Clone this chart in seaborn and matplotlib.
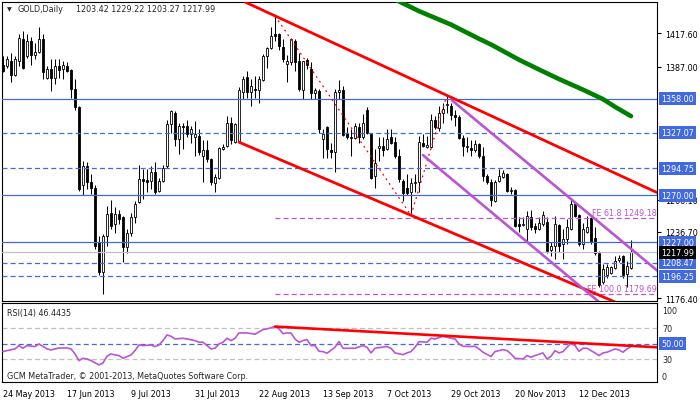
import matplotlib
matplotlib.use("Agg")
import matplotlib.pyplot as plt
import matplotlib.transforms as mtransforms
import numpy as np
import pandas as pd
import seaborn as sns

# daily OHLC, one row per bar (24 May 2013 .. end of Dec 2013)
opens = [1389, 1388, 1392, 1380, 1392, 1412, 1397, 1411, 1398, 1401, 1412, 1377, 1385, 1377, 1388, 1385,
         1388, 1384, 1367, 1350, 1279, 1297, 1282, 1277, 1227, 1200, 1233, 1254, 1244, 1253, 1250, 1223,
         1236, 1250, 1264, 1285, 1284, 1283, 1291, 1274, 1283, 1297, 1335, 1345, 1321, 1333, 1333, 1326,
         1323, 1324, 1306, 1311, 1303, 1281, 1286, 1312, 1315, 1336, 1319, 1319, 1364, 1378, 1364, 1367,
         1366, 1375, 1397, 1404, 1417, 1417, 1405, 1390, 1391, 1411, 1392, 1366, 1393, 1385, 1363, 1365,
         1321, 1332, 1311, 1309, 1364, 1366, 1327, 1323, 1322, 1332, 1323, 1348, 1326, 1288, 1313, 1315,
         1312, 1323, 1319, 1306, 1283, 1277, 1273, 1281, 1282, 1318, 1314, 1314, 1339, 1331, 1345, 1352,
         1351, 1343, 1341, 1322, 1314, 1313, 1311, 1317, 1306, 1288, 1282, 1265, 1283, 1287, 1289, 1274,
         1275, 1244, 1243, 1239, 1250, 1242, 1239, 1244, 1246, 1220, 1224, 1243, 1226, 1230, 1239, 1262,
         1252, 1226, 1237, 1249, 1231, 1217, 1191, 1197, 1199, 1204, 1211, 1215, 1198, 1203.42]
highs = [1397, 1397, 1400, 1397, 1417, 1420, 1417, 1414, 1409, 1423, 1417, 1388, 1394, 1394, 1394, 1392,
         1391, 1385, 1376, 1351, 1301, 1300, 1289, 1279, 1233, 1235, 1260, 1266, 1259, 1257, 1251, 1239,
         1254, 1265, 1298, 1294, 1294, 1297, 1300, 1286, 1298, 1339, 1348, 1347, 1336, 1336, 1339, 1333,
         1338, 1330, 1320, 1320, 1304, 1289, 1314, 1317, 1342, 1341, 1336, 1369, 1379, 1383, 1376, 1379,
         1379, 1399, 1405, 1423, 1433.5, 1418, 1412, 1398, 1413, 1412, 1400, 1392, 1395, 1391, 1368, 1367,
         1330, 1333, 1318, 1367, 1375, 1370, 1332, 1330, 1336, 1336, 1344, 1350, 1327, 1312, 1323, 1323,
         1330, 1330, 1323, 1312, 1285, 1289, 1286, 1289, 1324, 1326, 1324, 1344, 1342, 1351, 1354, 1361.6,
         1354, 1348, 1343, 1325, 1323, 1320, 1320, 1318, 1314, 1289, 1285, 1284, 1294, 1293, 1290, 1278,
         1276, 1250, 1250, 1256, 1257, 1245, 1250, 1256, 1250, 1227, 1251, 1244, 1239, 1248, 1267, 1263,
         1253, 1245, 1251, 1250, 1241, 1219, 1207, 1207, 1206, 1215, 1216, 1216, 1210, 1229.22]
lows = [1382, 1386, 1373, 1379, 1388, 1385, 1395, 1389, 1394, 1400, 1376, 1376, 1365, 1371, 1377, 1376,
        1382, 1359, 1348, 1274, 1270, 1276, 1271, 1221, 1197, 1180, 1224, 1239, 1236, 1244, 1209, 1217,
        1233, 1245, 1263, 1267, 1273, 1276, 1271, 1273, 1282, 1295, 1327, 1315, 1308, 1312, 1323, 1318,
        1306, 1307, 1282, 1300, 1279, 1273, 1285, 1311, 1314, 1317, 1318, 1318, 1358, 1359, 1351, 1359,
        1354, 1374, 1386, 1403, 1411, 1402, 1391, 1373, 1389, 1383, 1365, 1358, 1385, 1358, 1358, 1327,
        1304, 1304, 1304, 1291, 1358, 1324, 1321, 1306, 1321, 1318, 1321, 1326, 1285, 1277, 1301, 1306,
        1311, 1317, 1304, 1282, 1265, 1270, 1251.7, 1273, 1273, 1314, 1313, 1313, 1330, 1329, 1336, 1345,
        1339, 1333, 1321, 1306, 1309, 1306, 1309, 1304, 1283, 1280, 1260, 1264, 1282, 1286, 1273, 1271,
        1241, 1237, 1242, 1227, 1238, 1236, 1238, 1242, 1217, 1215, 1212, 1218, 1212, 1226, 1238, 1250,
        1224, 1221, 1236, 1226, 1216, 1186, 1189, 1195, 1198, 1203, 1209, 1195, 1186, 1203.27]
closes = [1383, 1394, 1380, 1394, 1413, 1386, 1411, 1398, 1401, 1412, 1382, 1385, 1377, 1388, 1384, 1389,
          1383, 1367, 1350, 1276, 1297, 1282, 1277, 1224, 1200, 1233, 1253, 1242, 1253, 1248, 1223, 1236,
          1250, 1262, 1285, 1283, 1282, 1291, 1273, 1283, 1295, 1335, 1347, 1321, 1333, 1332, 1326, 1330,
          1326, 1309, 1311, 1303, 1282, 1287, 1313, 1314, 1336, 1320, 1335, 1366, 1376, 1364, 1370, 1366,
          1376, 1397, 1404, 1415, 1415, 1406, 1394, 1392, 1412, 1391, 1367, 1392, 1389, 1363, 1366, 1330,
          1326, 1312, 1309, 1364, 1366, 1325, 1323, 1322, 1333, 1323, 1336, 1327, 1286, 1299, 1315, 1311,
          1321, 1318, 1306, 1285, 1272, 1272, 1281, 1282, 1319, 1315, 1316, 1339, 1332, 1345, 1349, 1353,
          1343, 1341, 1322, 1315, 1315, 1311, 1317, 1306, 1288, 1282, 1266, 1282, 1288, 1290, 1274, 1275,
          1242, 1242, 1244, 1251, 1241, 1239, 1245, 1252, 1219, 1224, 1244, 1224, 1230, 1241, 1262, 1251,
          1226, 1239, 1241, 1227, 1217, 1188, 1203, 1205, 1205, 1210, 1213, 1197, 1206, 1217.99]

# moving average (green), read at a few bars
ma_bar = [97, 99, 104, 112, 119, 122, 129, 134, 139, 145, 150, 153, 157]
ma_val = [1450.0, 1446.7, 1437.8, 1425.5, 1412.6, 1407.4, 1393.5, 1384.6, 1375.9, 1366.2, 1357.6, 1350.6, 1342.1]

# RSI(14)
rsi_bar = [0, 1, 3, 4, 5, 6, 8, 9, 11, 12, 13, 14, 16, 17, 18, 19, 20, 21, 22, 24, 25, 26, 27, 28, 29, 30,
           32, 33, 34, 35, 37, 38, 39, 40, 41, 42, 43, 45, 46, 48, 49, 50, 51, 52, 53, 54, 55, 56, 57, 58,
           59, 61, 63, 65, 66, 68, 69, 70, 71, 72, 73, 74, 75, 76, 77, 78, 79, 80, 81, 83, 84, 85, 86, 87,
           88, 90, 91, 92, 93, 94, 96, 97, 98, 100, 101, 102, 103, 104, 106, 107, 108, 110, 112, 113, 114,
           115, 117, 118, 119, 120, 122, 123, 125, 126, 127, 128, 130, 131, 132, 133, 135, 136, 137, 138,
           139, 140, 141, 142, 143, 144, 145, 146, 147, 148, 149, 150, 151, 152, 153, 154, 155, 156, 157]
rsi_val = [39.9, 41.2, 43.4, 47.7, 44.2, 47.7, 46.4, 49.8, 43.4, 42.1, 43.4, 44.6, 44.6, 43.4, 36.9, 28.3,
           31.3, 30.4, 28.3, 22.7, 25.3, 33.9, 36.9, 35.6, 34.8, 31.3, 35.6, 41.2, 48.5, 47.7, 48.5, 46.4,
           48.5, 54.1, 61.4, 59.7, 56.2, 57.1, 56.2, 54.1, 52.0, 52.0, 47.7, 43.4, 44.2, 49.8, 52.0, 57.1,
           54.1, 57.1, 64.0, 64.0, 62.3, 68.3, 69.2, 72.2, 69.2, 63.1, 64.0, 64.0, 56.2, 52.0, 54.1, 55.4,
           47.7, 47.7, 40.3, 39.9, 37.8, 45.5, 53.0, 44.2, 44.2, 44.2, 44.2, 47.7, 45.5, 38.2, 44.2, 45.1,
           46.4, 44.2, 38.2, 36.0, 38.2, 39.9, 45.5, 52.8, 52.0, 57.1, 56.2, 59.7, 57.1, 56.2, 49.8, 46.8,
           46.4, 46.8, 43.4, 39.1, 33.5, 39.9, 42.5, 41.2, 36.9, 31.3, 30.4, 34.8, 32.6, 34.8, 38.2, 30.4,
           33.9, 41.2, 38.2, 39.9, 45.5, 50.7, 47.7, 40.3, 44.2, 44.2, 41.2, 38.2, 34.8, 38.2, 39.1, 41.2,
           43.4, 42.1, 39.1, 43.4, 46.44]

# drawn objects
solid_levels = [1358.00, 1270.00, 1227.00]
dashed_levels = [1327.07, 1294.75, 1208.47, 1196.25]
bid = 1217.99
fe_levels = [1249.18, 1179.69]
fe_labels = ["FE 61.8 1249.18", "FE 100.0 1179.69"]
upper_red = ([60.5, 163.5], [1446.1, 1272.5])
lower_red = ([59, 156], [1318.4, 1168.2])
upper_purple = ([112.25, 163.5], [1356.5, 1201.6])
lower_purple = ([105, 150], [1306.6, 1169.8])
fe_zigzag = ([68, 102, 111], [1433.5, 1251.7, 1361.6])
rsi_trend = ([68, 163.5], [72.2, 45.5])

price_ticks = [1417.60, 1387.00, 1266.10, 1236.70, 1176.40]
date_bars = [0, 16, 32, 48, 64, 80, 96, 112, 128, 144]
date_labels = ["24 May 2013", "17 Jun 2013", "9 Jul 2013", "31 Jul 2013", "22 Aug 2013",
               "13 Sep 2013", "7 Oct 2013", "29 Oct 2013", "20 Nov 2013", "12 Dec 2013"]

sns.set_style("white")
plt.rcParams['font.family'] = ['DejaVu Sans']
plt.rcParams['font.size'] = 5.8

FS = 5.8
BLUE = '#4169E1'
PURPLE = '#BA55D3'
SILVER = '#C0C0C0'
DASH = (0, (4, 2.5))

fig = plt.figure(figsize=(7, 4.02), dpi=100, facecolor='white')
ax = fig.add_axes([2/700, 1-302/402, 655/700, 299/402])
ax_rsi = fig.add_axes([2/700, 1-383/402, 655/700, 79/402])

df = pd.DataFrame({"open": opens, "high": highs, "low": lows, "close": closes})
df["bar"] = np.arange(len(df))
up = df.close >= df.open

# candles
ax.vlines(df.bar, df.low, df.high, color='black', lw=0.75, zorder=2)
ax.bar(df.bar, (df.close - df.open).abs(), bottom=np.minimum(df.open, df.close), width=0.7,
       color=np.where(up, 'white', 'black'), edgecolor='black', linewidth=0.6, zorder=3)

# horizontal levels
for lv in solid_levels:
    ax.axhline(lv, color=BLUE, lw=0.9, zorder=4)
for lv in dashed_levels:
    ax.axhline(lv, color=BLUE, lw=0.9, ls=DASH, zorder=4)
ax.axhline(bid, color=SILVER, lw=0.9, zorder=4)
for lv, lab in zip(fe_levels, fe_labels):
    ax.plot([68, 163.5], [lv, lv], color=PURPLE, lw=0.9, ls=DASH, zorder=4)
    ax.annotate(lab, (163.4, lv), xytext=(0, 1), textcoords='offset points',
                ha='right', va='bottom', color=PURPLE, fontsize=FS, zorder=6)

# trend lines and MA
ax.plot(*fe_zigzag, color='red', lw=0.9, ls=(0, (1.5, 3)), zorder=5)
ax.plot(*upper_red, color='red', lw=2.0, zorder=5)
ax.plot(*lower_red, color='red', lw=2.0, zorder=5)
ax.plot(*upper_purple, color=PURPLE, lw=1.9, zorder=5)
ax.plot(*lower_purple, color=PURPLE, lw=1.9, zorder=5)
sns.lineplot(x=ma_bar, y=ma_val, ax=ax, color='#008000', lw=3.3, zorder=5, legend=False)

ax.set_xlim(-0.25, 163.5)
ax.set_ylim(1173.7, 1446.1)
ax.set_xticks([])
ax.yaxis.tick_right()
ax.set_yticks(price_ticks)
ax.set_yticklabels([f"{p:.2f}" for p in price_ticks])
ax.tick_params(axis='y', direction='out', length=3, pad=3, labelsize=FS, colors='black')
ax.set_xlabel("")
ax.set_ylabel("")

# boxed price labels
box_tr = mtransforms.offset_copy(ax.get_yaxis_transform(), fig=fig, x=4, y=0, units='dots')
for lv in solid_levels + dashed_levels:
    ax.text(1.0, lv, f"{lv:.2f}", transform=box_tr, ha='left', va='center', color='white',
            fontsize=FS, zorder=10, clip_on=False,
            bbox=dict(boxstyle='square,pad=0.25', fc=BLUE, ec='none'))
ax.text(1.0, bid, f"{bid:.2f}", transform=box_tr, ha='left', va='center', color='white',
        fontsize=FS, zorder=10, clip_on=False,
        bbox=dict(boxstyle='square,pad=0.25', fc='black', ec='none'))

# RSI panel
ax_rsi.axhline(70, color=SILVER, lw=0.9, ls=DASH)
ax_rsi.axhline(30, color=SILVER, lw=0.9, ls=DASH)
ax_rsi.axhline(50, color=BLUE, lw=0.9, ls=DASH)
sns.lineplot(x=rsi_bar, y=rsi_val, ax=ax_rsi, color=PURPLE, lw=1.2, legend=False, zorder=3)
ax_rsi.plot(*rsi_trend, color='red', lw=1.9, zorder=4)
ax_rsi.set_xlim(-0.25, 163.5)
ax_rsi.set_ylim(0.7, 102.6)
ax_rsi.set_yticks([])
ax_rsi.set_ylabel("")
ax_rsi.set_xticks(date_bars)
ax_rsi.set_xticklabels(date_labels, ha='left')
ax_rsi.tick_params(axis='x', direction='out', length=4, pad=1, labelsize=FS, colors='black')

rsi_tr = mtransforms.offset_copy(ax_rsi.get_yaxis_transform(), fig=fig, x=5, y=0, units='dots')
for val, lab in [(92.5, "100"), (70, "70"), (30, "30"), (8, "0")]:
    ax_rsi.text(1.0, val, lab, transform=rsi_tr, ha='left', va='center', fontsize=FS, clip_on=False)
rsi_box = mtransforms.offset_copy(ax_rsi.get_yaxis_transform(), fig=fig, x=4, y=0, units='dots')
ax_rsi.text(1.0, 50, "50.00", transform=rsi_box, ha='left', va='center', color='white', fontsize=FS,
            clip_on=False, bbox=dict(boxstyle='square,pad=0.25', fc=BLUE, ec='none'))

for a in (ax, ax_rsi):
    for s in a.spines.values():
        s.set_color('black')
        s.set_linewidth(0.8)
        s.set_visible(True)

# header texts
fig.text(9/700, 1-10/402, "▼", fontsize=4.5, va='center', ha='center')
fig.text(18/700, 1-10/402, "GOLD,Daily", fontsize=FS, va='center')
fig.text(76/700, 1-10/402, "1203.42 1229.22 1203.27 1217.99", fontsize=FS, va='center')
fig.text(7/700, 1-314/402, "RSI(14) 46.4435", fontsize=FS, va='center')
fig.text(7/700, 1-377/402, "GCM MetaTrader, \u00a9 2001-2013, MetaQuotes Software Corp.", fontsize=FS, va='center')

fig.savefig("out.png", dpi=100, facecolor='white')
